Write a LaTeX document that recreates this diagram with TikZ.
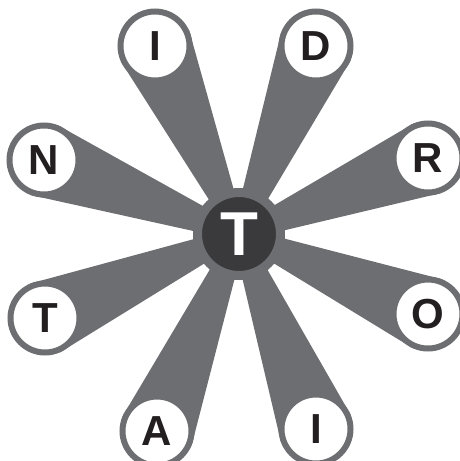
\documentclass[tikz,border=0pt]{standalone}
\usepackage{fontspec}
\setmainfont{Liberation Sans}
\usetikzlibrary{calc}
\definecolor{spoke}{HTML}{6D6E71}
\definecolor{hub}{HTML}{3A3A3C}
\definecolor{ink}{HTML}{231F20}
\begin{document}
\begin{tikzpicture}[x=1pt,y=-1pt,
  outer/.style={circle, draw=spoke, line width=6pt, fill=white, minimum size=69pt,
    inner sep=0pt, text=ink, font=\fontsize{42}{42}\selectfont\bfseries},
  hubnode/.style={circle, draw=spoke, line width=9pt, fill=hub, minimum size=83pt,
    inner sep=0pt, text=white, font=\fontsize{62}{62}\selectfont\bfseries},
  spokefill/.style={fill=spoke}]
\useasboundingbox (0,0) rectangle (460,461);
\clip (0,0) rectangle (460,461);
\coordinate (c) at (239,234);
\coordinate (p1) at (155,46);
\coordinate (p2) at (316,46);
\coordinate (p3) at (44,160);
\coordinate (p4) at (428,158);
\coordinate (p5) at (45,318);
\coordinate (p6) at (428,314);
\coordinate (p7) at (157,431);
\coordinate (p8) at (316,429);
\foreach \i in {1,...,8}{
  \fill[spokefill] ($(c)!7pt!90:(p\i)$) -- ($(p\i)!37.5pt!-90:(c)$)
    -- ($(p\i)!37.5pt!90:(c)$) -- ($(c)!7pt!-90:(p\i)$) -- cycle;
}
\node[outer] (n1) at (p1) {I};
\node[outer] (n2) at (p2) {D};
\node[outer] (n3) at (p3) {N};
\node[outer] (n4) at (p4) {R};
\node[outer] (n5) at (p5) {T};
\node[outer] (n6) at (p6) {O};
\node[outer] (n7) at (p7) {A};
\node[outer] (n8) at (p8) {I};
\node[hubnode] (hubT) at (c) {T};
\end{tikzpicture}
\end{document}
